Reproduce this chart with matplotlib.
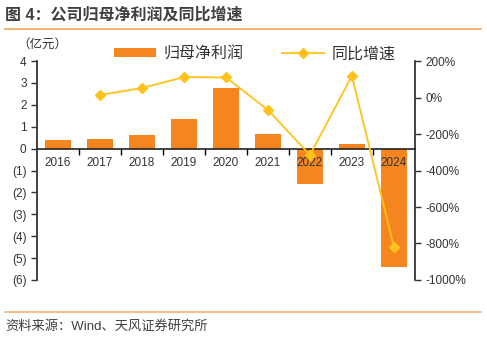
import numpy as np
import matplotlib
matplotlib.use('Agg')
from matplotlib import pyplot as plt
from matplotlib.ticker import FuncFormatter, FixedLocator

plt.rcParams['font.family'] = ['Liberation Sans', 'Noto Sans CJK SC', 'DejaVu Sans']

years = ['2016', '2017', '2018', '2019', '2020', '2021', '2022', '2023', '2024']
profit = [0.40, 0.43, 0.64, 1.37, 2.78, 0.68, -1.61, 0.21, -5.42]
growth_years = ['2017', '2018', '2019', '2020', '2021', '2022', '2023', '2024']
growth = [14, 52, 112, 110, -68, -315, 118, -820]

bar_color = '#F5861F'
line_color = '#FFC21A'
text_color = '#333333'

fig = plt.figure(figsize=(4.87, 3.40), dpi=100)
ax = fig.add_axes([0.076, 0.1765, 0.776, 0.644])

x = np.arange(len(years))
ax.bar(x, profit, width=0.62, color=bar_color, label='归母净利润', zorder=2)
ax.set_xlim(-0.5, len(years) - 0.5)
ax.set_ylim(-6, 4)
ax.set_yticks(range(-6, 5))
ax.yaxis.set_major_formatter(FuncFormatter(lambda v, p: f'({abs(int(v))})' if v < 0 else f'{int(v)}'))

ax.spines['top'].set_visible(False)
ax.spines['right'].set_visible(False)
ax.spines['bottom'].set_position(('data', 0))
for s in ['left', 'bottom']:
    ax.spines[s].set_linewidth(1.2)
    ax.spines[s].set_color('#222222')
ax.set_xticks(x)
ax.set_xticklabels(years)
ax.xaxis.set_minor_locator(FixedLocator(np.arange(0.5, len(years) - 1, 1)))
ax.tick_params(axis='x', which='major', length=0, pad=6, labelsize=8.5, colors=text_color)
ax.tick_params(axis='x', which='minor', length=4, width=1, direction='out')
ax.tick_params(axis='y', length=4, width=1, direction='out', labelsize=8.5, colors=text_color)
ax.set_axisbelow(False)

ax2 = ax.twinx()
gx = [years.index(y) for y in growth_years]
ax2.plot(gx, growth, color=line_color, lw=1.3, marker='D', markersize=5.5,
         markerfacecolor=line_color, markeredgecolor=line_color, label='同比增速', zorder=3)
ax2.set_ylim(-1000, 200)
ax2.set_yticks(range(-1000, 201, 200))
ax2.yaxis.set_major_formatter(FuncFormatter(lambda v, p: f'{int(v)}%'))
for s in ['top', 'bottom', 'left']:
    ax2.spines[s].set_visible(False)
ax2.spines['right'].set_linewidth(1.2)
ax2.spines['right'].set_color('#222222')
ax2.tick_params(axis='y', length=4, width=1, direction='out', labelsize=8.5, colors=text_color)

h1, l1 = ax.get_legend_handles_labels()
h2, l2 = ax2.get_legend_handles_labels()
fig.legend(h1 + h2, l1 + l2, loc='center left', bbox_to_anchor=(0.205, 0.842), ncol=2,
           frameon=False, fontsize=11.5, handlelength=2.6, handleheight=0.55,
           columnspacing=2.4, handletextpad=0.5, labelcolor=text_color)

fig.text(0.035, 0.868, '（亿元）', fontsize=9, color=text_color, va='center')

fig.text(0.01, 0.958, '图 4：公司归母净利润及同比增速', fontsize=11.5, fontweight='bold',
         color='#404040', va='center')
fig.add_artist(plt.Line2D([0.01, 0.988], [0.914, 0.914], color='#F6A35C', lw=1.2))
fig.add_artist(plt.Line2D([0.01, 0.988], [0.083, 0.083], color='#F8B27A', lw=1.2))
fig.text(0.01, 0.04, '资料来源：Wind、天风证券研究所', fontsize=9.5, color='#404040', va='center')

fig.savefig('out.png', dpi=100)
